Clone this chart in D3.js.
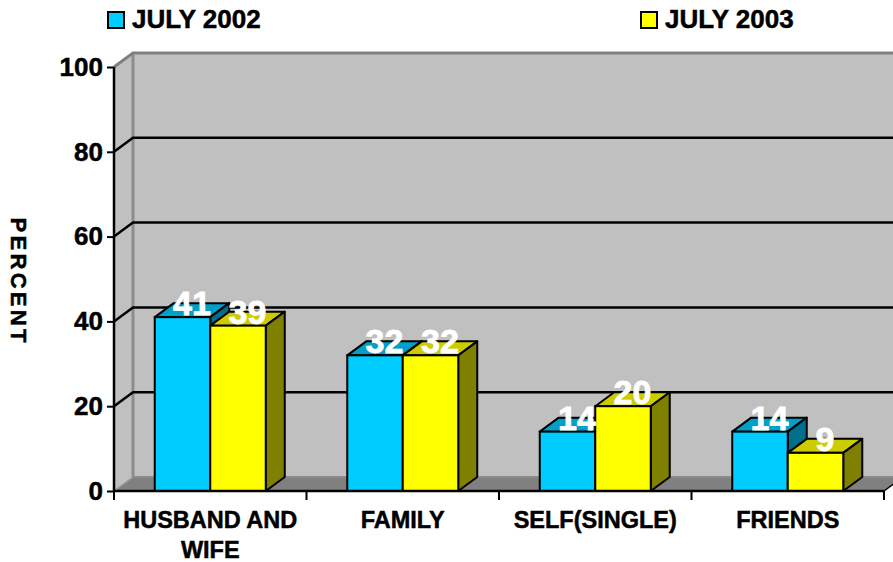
<!DOCTYPE html>
<html>
<head>
<meta charset="utf-8">
<script src="https://cdn.jsdelivr.net/npm/d3@7"></script>
<style>
  html, body { margin: 0; padding: 0; background: #fff; }
  svg { display: block; font-family: "Liberation Sans", Arial, sans-serif; font-weight: bold; }
</style>
</head>
<body>
<svg id="chart" width="893" height="562"></svg>
<script>
const categories = ["HUSBAND AND|WIFE", "FAMILY", "SELF(SINGLE)", "FRIENDS"];
const seriesNames = ["JULY 2002", "JULY 2003"];
const july2002 = [41, 32, 14, 14];
const july2003 = [39, 32, 20, 9];
const yTicks = [0, 20, 40, 60, 80, 100];
const axisTitle = "PERCENT";

const frontColors = ["#00ccff", "#ffff00"];
const topColors = ["#00a0c8", "#cccc00"];
const sideColors = ["#006f8c", "#808000"];

const svg = d3.select("#chart");
const W = 893, H = 562;
const DX = 19, DY = -14;
const left = 114, right = 884, floorY = 491, topY = 67;

const y = d3.scaleLinear().domain([0, 100]).range([floorY, topY]);
const x0 = d3.scaleBand().domain(categories).range([left, right]).padding(0);
const groupW = 111;
const x1 = d3.scaleBand().domain(seriesNames).range([0, groupW]).padding(0);

svg.append("rect").attr("width", W).attr("height", H).attr("fill", "#fff");

const pts = a => a.map(p => p.join(",")).join(" ");

// back wall
svg.append("polygon")
  .attr("points", pts([[left + DX, y(100) + DY], [right + DX + 40, y(100) + DY], [right + DX + 40, y(0) + DY], [left + DX, y(0) + DY]]))
  .attr("fill", "#c0c0c0");
// left wall
svg.append("polygon")
  .attr("points", pts([[left, y(100)], [left + DX, y(100) + DY], [left + DX, y(0) + DY], [left, y(0)]]))
  .attr("fill", "#c0c0c0");
// floor
svg.append("polygon")
  .attr("points", pts([[left, y(0)], [right, y(0)], [right + DX, y(0) + DY], [left + DX, y(0) + DY]]))
  .attr("fill", "#808080");
// floor back edge
svg.append("line")
  .attr("x1", left + DX).attr("x2", W + 20)
  .attr("y1", y(0) + DY).attr("y2", y(0) + DY)
  .attr("stroke", "#8c8c8c").attr("stroke-width", 2);
// floor left diagonal
svg.append("line")
  .attr("x1", left).attr("y1", y(0)).attr("x2", left + DX).attr("y2", y(0) + DY)
  .attr("stroke", "#9a9a9a").attr("stroke-width", 1.5);
// back-wall left edge
svg.append("line")
  .attr("x1", left + DX).attr("x2", left + DX)
  .attr("y1", y(100) + DY).attr("y2", y(0) + DY)
  .attr("stroke", "#8c8c8c").attr("stroke-width", 3);
// top edges
svg.append("polyline")
  .attr("points", pts([[left, y(100)], [left + DX, y(100) + DY], [W + 20, y(100) + DY]]))
  .attr("fill", "none").attr("stroke", "#808080").attr("stroke-width", 3);

// gridlines
svg.append("g").selectAll("polyline")
  .data(yTicks.filter(v => v > 0 && v < 100))
  .join("polyline")
  .attr("points", v => pts([[left, y(v)], [left + DX, y(v) + DY], [W + 20, y(v) + DY]]))
  .attr("fill", "none").attr("stroke", "#000").attr("stroke-width", 2.5);

// right floor edge
svg.append("line")
  .attr("x1", right).attr("y1", y(0)).attr("x2", right + DX).attr("y2", y(0) + DY)
  .attr("stroke", "#000").attr("stroke-width", 1.5);

// bars
const data = categories.map((c, i) => ({ cat: c, vals: [july2002[i], july2003[i]] }));
const barsG = svg.append("g");
data.forEach(d => {
  const gx = x0(d.cat) + (x0.bandwidth() - groupW) / 2;
  d.vals.forEach((v, s) => {
    const bx = gx + x1(seriesNames[s]);
    const bw = x1.bandwidth();
    const ty = y(v), by = y(0);
    const g = barsG.append("g");
    g.append("polygon")
      .attr("points", pts([[bx, ty], [bx + DX, ty + DY], [bx + bw + DX, ty + DY], [bx + bw, ty]]))
      .attr("fill", topColors[s]).attr("stroke", "#000").attr("stroke-width", 2).attr("stroke-linejoin", "round");
    g.append("polygon")
      .attr("points", pts([[bx + bw, ty], [bx + bw + DX, ty + DY], [bx + bw + DX, by + DY], [bx + bw, by]]))
      .attr("fill", sideColors[s]).attr("stroke", "#000").attr("stroke-width", 2).attr("stroke-linejoin", "round");
    g.append("rect")
      .attr("x", bx).attr("y", ty).attr("width", bw).attr("height", by - ty)
      .attr("fill", frontColors[s]).attr("stroke", "#000").attr("stroke-width", 2);
  });
});

// value labels
data.forEach(d => {
  const gx = x0(d.cat) + (x0.bandwidth() - groupW) / 2;
  d.vals.forEach((v, s) => {
    const bx = gx + x1(seriesNames[s]);
    svg.append("text")
      .attr("x", bx + x1.bandwidth() / 2 + DX / 2)
      .attr("y", y(v) - 2)
      .attr("text-anchor", "middle")
      .attr("font-size", 34)
      .attr("fill", "#fff")
      .attr("stroke", "#fff").attr("stroke-width", 0.8)
      .text(v);
  });
});

// axes
const yAxis = d3.axisLeft(y).tickValues(yTicks).tickSize(7).tickPadding(4).tickFormat(d3.format("d"));
const ya = svg.append("g").attr("transform", `translate(${left},0)`).call(yAxis);
ya.select(".domain").attr("stroke", "#000").attr("stroke-width", 2.5).attr("d", `M0,${y(100)}V${y(0)}`);
ya.selectAll(".tick line").attr("stroke", "#000").attr("stroke-width", 2);
ya.selectAll(".tick text").attr("font-size", 26).attr("font-family", "'Liberation Sans', Arial, sans-serif")
  .attr("font-weight", "bold").attr("fill", "#000").attr("stroke", "#000").attr("stroke-width", 0.5);

const xa = svg.append("g").attr("transform", `translate(0,${floorY})`);
xa.append("line").attr("x1", left).attr("x2", right).attr("y1", 0).attr("y2", 0)
  .attr("stroke", "#000").attr("stroke-width", 2.5);
const bounds = categories.map(c => x0(c)).concat([x0(categories[categories.length - 1]) + x0.bandwidth()]);
xa.selectAll("line.tk").data(bounds).join("line").attr("class", "tk")
  .attr("x1", d => d).attr("x2", d => d).attr("y1", 0).attr("y2", 9)
  .attr("stroke", "#000").attr("stroke-width", 2);
xa.selectAll("text.cat").data(categories).join("text").attr("class", "cat")
  .attr("x", d => x0(d) + x0.bandwidth() / 2)
  .attr("y", 37)
  .attr("text-anchor", "middle")
  .attr("font-size", 23.5)
  .attr("fill", "#000").attr("stroke", "#000").attr("stroke-width", 0.5)
  .each(function(d) {
    const lines = d.split("|");
    const t = d3.select(this);
    lines.forEach((ln, i) => {
      t.append("tspan").attr("x", x0(d) + x0.bandwidth() / 2).attr("dy", i === 0 ? 0 : 30).text(ln);
    });
  });

// axis title
svg.append("text")
  .attr("transform", `translate(11,280) rotate(90)`)
  .attr("text-anchor", "middle")
  .attr("font-size", 22)
  .attr("textLength", 125)
  .attr("lengthAdjust", "spacing")
  .attr("fill", "#000").attr("stroke", "#000").attr("stroke-width", 0.5)
  .text(axisTitle);

// legend
const legendX = [107, 640];
const lg = svg.append("g");
seriesNames.forEach((n, i) => {
  lg.append("rect").attr("x", legendX[i] + 1).attr("y", 12).attr("width", 16).attr("height", 16)
    .attr("fill", frontColors[i]).attr("stroke", "#000").attr("stroke-width", 2);
  lg.append("text").attr("x", legendX[i] + 25).attr("y", 28)
    .attr("font-size", 26).attr("fill", "#000").attr("stroke", "#000").attr("stroke-width", 0.5).text(n);
});
</script>
</body>
</html>
